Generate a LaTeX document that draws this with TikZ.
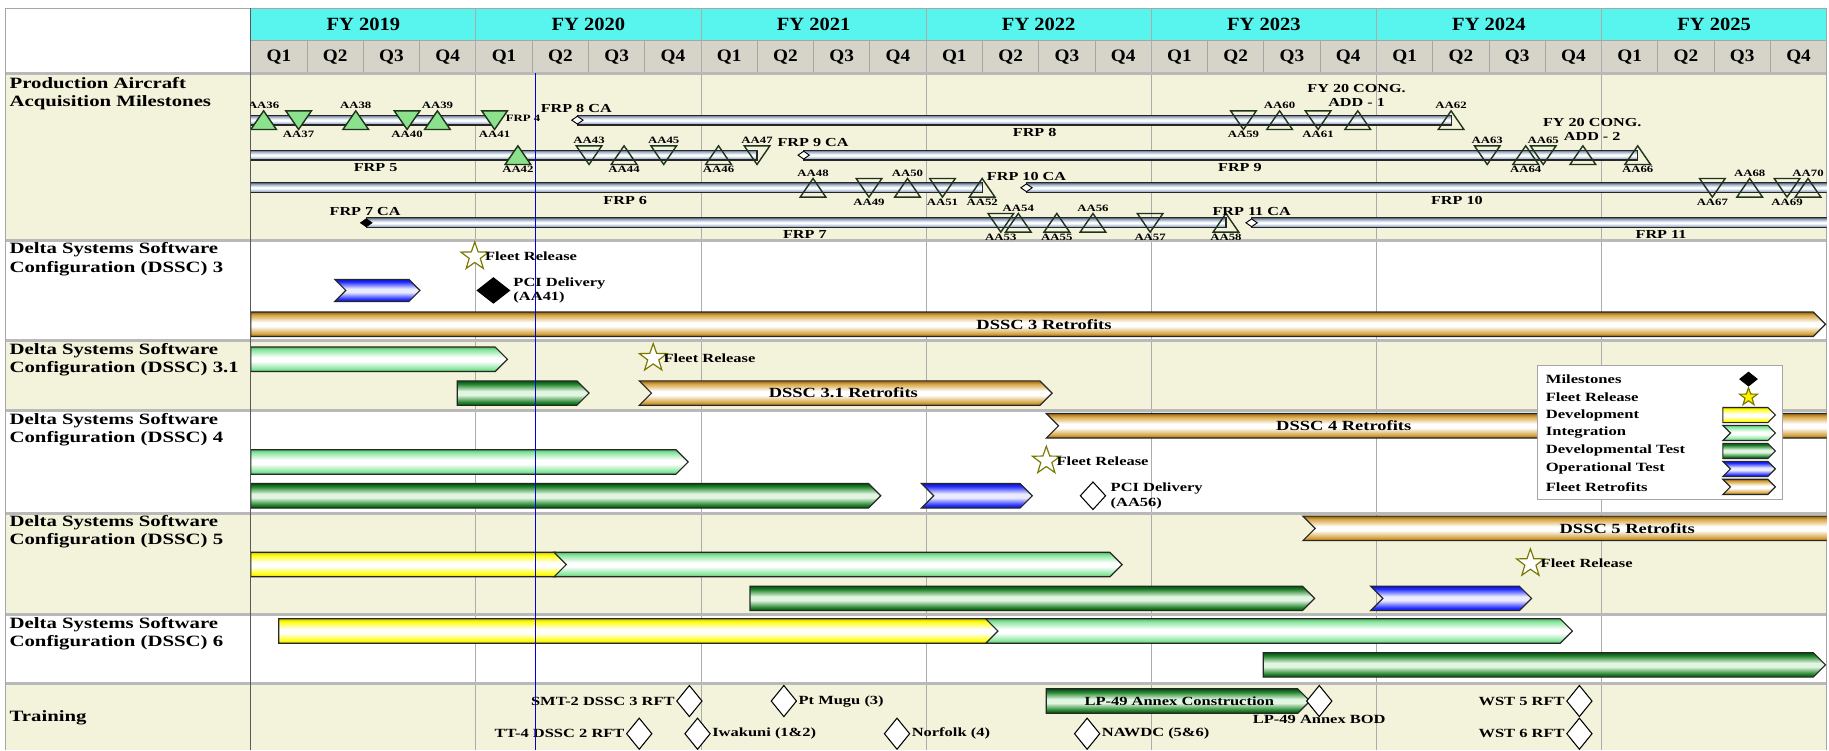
\documentclass[tikz,border=0pt]{standalone}
\usepackage{fontspec}
\setmainfont[FakeStretch=1.32]{Liberation Serif}
\newfontfamily\hdrfont[FakeStretch=1.1]{Liberation Serif}
\usepackage{tikz}
\usetikzlibrary{shapes.geometric}
\definecolor{fyhead}{RGB}{88,245,238}
\definecolor{qhead}{RGB}{214,211,200}
\definecolor{rowbeige}{RGB}{243,242,218}
\definecolor{devyellow}{RGB}{255,255,20}
\definecolor{devedge}{RGB}{215,205,0}
\definecolor{intgreen}{RGB}{140,232,160}
\definecolor{intedge}{RGB}{90,190,110}
\definecolor{dtgreen}{RGB}{30,130,40}
\definecolor{dtedge}{RGB}{10,75,20}
\definecolor{dtmid}{RGB}{225,245,225}
\definecolor{otblue}{RGB}{40,50,255}
\definecolor{otedge}{RGB}{15,20,190}
\definecolor{otmid}{RGB}{235,235,255}
\definecolor{retrotan}{RGB}{215,165,65}
\definecolor{retroedge}{RGB}{150,100,20}
\definecolor{pipeblue}{RGB}{155,175,200}
\definecolor{pipeedge}{RGB}{95,105,125}
\definecolor{mstgreen}{RGB}{140,225,140}
\definecolor{mstline}{RGB}{30,50,30}
\definecolor{staroutline}{RGB}{120,120,0}
\pgfdeclareverticalshading{devshade}{100bp}{color(0bp)=(devedge); color(25bp)=(devedge); color(31bp)=(devyellow); color(46bp)=(white); color(54bp)=(white); color(69bp)=(devyellow); color(75bp)=(devedge); color(100bp)=(devedge)}
\pgfdeclareverticalshading{intshade}{100bp}{color(0bp)=(intedge); color(25bp)=(intedge); color(31bp)=(intgreen); color(46bp)=(white); color(54bp)=(white); color(69bp)=(intgreen); color(75bp)=(intedge); color(100bp)=(intedge)}
\pgfdeclareverticalshading{dtshade}{100bp}{color(0bp)=(dtedge); color(25bp)=(dtedge); color(31bp)=(dtgreen); color(46bp)=(dtmid); color(54bp)=(dtmid); color(69bp)=(dtgreen); color(75bp)=(dtedge); color(100bp)=(dtedge)}
\pgfdeclareverticalshading{otshade}{100bp}{color(0bp)=(otedge); color(25bp)=(otedge); color(31bp)=(otblue); color(46bp)=(otmid); color(54bp)=(otmid); color(69bp)=(otblue); color(75bp)=(otedge); color(100bp)=(otedge)}
\pgfdeclareverticalshading{retroshade}{100bp}{color(0bp)=(retroedge); color(25bp)=(retroedge); color(31bp)=(retrotan); color(46bp)=(white); color(54bp)=(white); color(69bp)=(retrotan); color(75bp)=(retroedge); color(100bp)=(retroedge)}
\pgfdeclareverticalshading{pipeshade}{100bp}{color(0bp)=(pipeedge); color(25bp)=(pipeedge); color(32bp)=(pipeblue); color(47bp)=(white); color(53bp)=(white); color(68bp)=(pipeblue); color(75bp)=(pipeedge); color(100bp)=(pipeedge)}
\newcommand{\fsz}[2]{\fontsize{#1}{#2}\selectfont\bfseries}
% phase chevrons: [half height]{style}{x start}{x tip}{y}
\newcommand{\chev}[5][10.5]{\path[#2] (#3,#5-#1) -- (#4-#1,#5-#1) -- (#4,#5) -- (#4-#1,#5+#1) -- (#3,#5+#1) -- cycle;}
\newcommand{\chevn}[5][10.5]{\path[#2] (#3,#5-#1) -- (#4-#1,#5-#1) -- (#4,#5) -- (#4-#1,#5+#1) -- (#3,#5+#1) -- (#3+#1,#5) -- cycle;}
\newcommand{\pipe}[3]{\path[pipe] (#1,#3-4.2) rectangle (#2,#3+4.2);}
\newcommand{\msup}[3]{\path[#1] (#2-11,#3+8) -- (#2,#3-8) -- (#2+11,#3+8) -- cycle;}
\newcommand{\msdn}[3]{\path[#1] (#2-11,#3-8) -- (#2,#3+8) -- (#2+11,#3-8) -- cycle;}

\begin{document}
\begin{tikzpicture}[x=1pt, y=-1pt,
  yrline/.style={draw=gray!65, line width=0.8pt},
  qline/.style={draw=gray!70, line width=0.8pt},
  rowsep/.style={draw=gray!55, line width=2.2pt},
  colline/.style={draw=black!65, line width=1pt},
  frame/.style={draw=gray!70, line width=1pt},
  today/.style={draw=blue!85!black, line width=0.9pt},
  fylab/.style={font=\hdrfont\fsz{16}{18}, inner sep=0pt},
  qlab/.style={font=\hdrfont\fsz{15}{17}, inner sep=0pt},
  rowlab/.style={anchor=north west, inner sep=0pt, align=left, font=\fsz{13.5}{15.5}},
  frplab/.style={inner sep=0pt, align=center, font=\fsz{10.5}{12}},
  aalab/.style={inner sep=0.5pt, font=\fsz{8.3}{9}},
  barlab/.style={inner sep=0pt, font=\fsz{12}{14}},
  frlab/.style={inner sep=1pt, font=\fsz{10.7}{12.5}},
  pcilab/.style={anchor=west, align=left, inner sep=0pt, font=\fsz{10.7}{12.5}},
  trlab/.style={inner sep=1pt, font=\fsz{10.7}{12}},
  leglab/.style={anchor=west, inner sep=0pt, font=\fsz{10.8}{12}},
  pipe/.style={draw=black!85, line width=1pt, shade, shading=pipeshade},
  msfill/.style={draw=mstline, line width=1.2pt, fill=mstgreen, line join=miter},
  mshollow/.style={draw=mstline, line width=1.2pt, line join=miter},
  cadia/.style={diamond, draw=black, line width=0.8pt, fill=white, inner sep=0pt, minimum width=10, minimum height=7},
  phase/.style={draw=black!85, line width=1pt, line join=miter, shade},
  dev/.style={phase, shading=devshade},
  int/.style={phase, shading=intshade},
  devtest/.style={phase, shading=dtshade},
  optest/.style={phase, shading=otshade},
  retro/.style={phase, shading=retroshade},
  fstar/.style={star, star points=5, star point ratio=2.5, minimum size=25, inner sep=0pt, draw=staroutline, line width=1pt, fill=white},
  pcidia/.style={diamond, draw=black, line width=0.9pt, inner sep=0pt, minimum width=28, minimum height=22},
  trdia/.style={diamond, draw=black, line width=0.9pt, fill=white, inner sep=0pt, minimum width=22, minimum height=27}
]
\useasboundingbox (0,0) rectangle (1568,643);

% backgrounds
\fill[white] (5,7) rectangle (1566,643);
\fill[fyhead] (215,7) rectangle (1566,35);
\fill[qhead] (215,35) rectangle (1566,63);
\foreach \a/\b in {63/206, 292/352, 440/527, 586/643}
  \fill[rowbeige] (5,\a) rectangle (1566,\b);

% grid
\foreach \k in {1,...,27}
  \draw[qline] ({215+48.25*\k},35) -- ({215+48.25*\k},63);
\foreach \k in {1,...,7}
  \draw[yrline] ({215+193*\k},7) -- ({215+193*\k},643);
\foreach \y in {63,206,292,352,440,527,586}
  \draw[rowsep] (5,\y) -- (1566,\y);
\draw[qline] (215,35) -- (1566,35);
\draw[frame] (5,643) -- (5,7) -- (1566,7) -- (1566,643);
\draw[colline] (215,7) -- (215,643);

% header
\foreach \yr [count=\i from 0] in {2019,...,2025}
  \node[fylab] (fy\yr) at ({215+193*(\i+0.5)},21) {FY \yr};
\foreach \k in {0,...,27} {
  \pgfmathtruncatemacro{\q}{mod(\k,4)+1}
  \node[qlab] (q\k) at ({215+48.25*(\k+0.5)},49) {Q\q};
}

% row labels
\node[rowlab] (lprod) at (8,66) {Production Aircraft\\Acquisition Milestones};
\node[rowlab] (ldssc3) at (8,208) {Delta Systems Software\\Configuration (DSSC) 3};
\node[rowlab] (ldssc31) at (8,294) {Delta Systems Software\\Configuration (DSSC) 3.1};
\node[rowlab] (ldssc4) at (8,354) {Delta Systems Software\\Configuration (DSSC) 4};
\node[rowlab] (ldssc5) at (8,442) {Delta Systems Software\\Configuration (DSSC) 5};
\node[rowlab] (ldssc6) at (8,529) {Delta Systems Software\\Configuration (DSSC) 6};
\node[rowlab, anchor=west] (ltrain) at (8,615) {Training};

\begin{scope}
\clip (215,63) rectangle (1566,643);

% production aircraft milestones
\pipe{215}{424}{103}
\pipe{495}{1244}{103}
\pipe{215}{649}{133}
\pipe{689}{1404}{133}
\pipe{215}{842}{161}
\pipe{880}{1572}{161}
\pipe{314}{1051}{191}
\pipe{1073}{1572}{191}

\node[cadia] (frp8ca) at (495,103) {};
\node[cadia] (frp9ca) at (689,133) {};
\node[cadia] (frp10ca) at (880,161) {};
\node[cadia, fill=black] (frp7ca) at (314,191) {};
\node[cadia] (frp11ca) at (1073,191) {};

\foreach \x/\y/\d/\n/\p in {226/103/up/AA36/above, 256/103/dn/AA37/below,
    305/103/up/AA38/above, 349/103/dn/AA40/below, 375/103/up/AA39/above,
    424/103/dn/AA41/below, 444/133/up/AA42/below} {
  \csname ms\d\endcsname{msfill}{\x}{\y}
  \node[aalab, \p=9pt] (\n) at (\x,\y) {\n};
}
\foreach \x/\y/\d/\n/\p in {1066/103/dn/AA59/below, 1097/103/up/AA60/above,
    1130/103/dn/AA61/below, 1244/103/up/AA62/above,
    505/133/dn/AA43/above, 535/133/up/AA44/below, 569/133/dn/AA45/above,
    616/133/up/AA46/below, 649/133/dn/AA47/above,
    1275/133/dn/AA63/above, 1308/133/up/AA64/below, 1323/133/dn/AA65/above,
    1404/133/up/AA66/below,
    697/161/up/AA48/above, 745/161/dn/AA49/below, 778/161/up/AA50/above,
    808/161/dn/AA51/below, 842/161/up/AA52/below,
    1468/161/dn/AA67/below, 1500/161/up/AA68/above, 1532/161/dn/AA69/below,
    1550/161/up/AA70/above,
    858/191/dn/AA53/below, 873/191/up/AA54/above, 906/191/up/AA55/below,
    937/191/up/AA56/above, 986/191/dn/AA57/below, 1051/191/up/AA58/below} {
  \csname ms\d\endcsname{mshollow}{\x}{\y}
  \node[aalab, \p=9pt] (\n) at (\x,\y) {\n};
}
\msup{mshollow}{1164}{103}
\msup{mshollow}{1357}{133}

\node[aalab, anchor=west] (lfrp4) at (433,101) {FRP 4};
\node[frplab] (lfrp8ca) at (494,93) {FRP 8 CA};
\node[frplab] (lfrp8) at (887,114) {FRP 8};
\node[frplab] (lfrp5) at (322,144) {FRP 5};
\node[frplab] (lfrp9ca) at (697,122) {FRP 9 CA};
\node[frplab] (lfrp9) at (1063,144) {FRP 9};
\node[frplab] (lfrp6) at (536,172) {FRP 6};
\node[frplab] (lfrp10ca) at (880,151) {FRP 10 CA};
\node[frplab] (lfrp10) at (1249,172) {FRP 10};
\node[frplab] (lfrp7ca) at (313,181) {FRP 7 CA};
\node[frplab] (lfrp7) at (690,201) {FRP 7};
\node[frplab] (lfrp11ca) at (1073,181) {FRP 11 CA};
\node[frplab] (lfrp11) at (1424,201) {FRP 11};
\node[frplab] (ladd1) at (1163,82) {FY 20 CONG.\\ADD - 1};
\node[frplab] (ladd2) at (1365,111) {FY 20 CONG.\\ADD - 2};

% DSSC 3
\chevn[9.5]{optest}{287}{360}{249}
\chev{retro}{215}{1565}{278}
\node[barlab] (tdssc3r) at (895,278) {DSSC 3 Retrofits};
\node[fstar, label={[frlab]right:Fleet Release}] (fr3) at (407,220) {};
\node[pcidia, fill=black] (pci3) at (423,249) {};
\node[pcilab] (tpci3) at (440,249) {PCI Delivery\\(AA41)};

% DSSC 3.1
\chev{int}{215}{435}{308}
\chev{devtest}{392}{505}{337}
\chevn{retro}{548}{902}{337}
\node[barlab] (tdssc31r) at (723,337) {DSSC 3.1 Retrofits};
\node[fstar, label={[frlab]right:Fleet Release}] (fr31) at (560,307) {};

% DSSC 4
\chevn{retro}{897}{1590}{365}
\node[barlab] (tdssc4r) at (1152,365) {DSSC 4 Retrofits};
\chev{int}{215}{590}{396}
\chev{devtest}{215}{755}{425}
\chevn{optest}{790}{885}{425}
\node[fstar, label={[frlab]right:Fleet Release}] (fr4) at (897,395) {};
\node[pcidia, fill=white, minimum width=22, minimum height=24] (pci4) at (937,425) {};
\node[pcilab] (tpci4) at (952,425) {PCI Delivery\\(AA56)};

% DSSC 5
\chevn{retro}{1117}{1590}{453}
\node[barlab] (tdssc5r) at (1395,453) {DSSC 5 Retrofits};
\chev{dev}{215}{487}{484}
\chevn{int}{475}{962}{484}
\chev{devtest}{643}{1127}{513}
\chevn{optest}{1175}{1313}{513}
\node[fstar, label={[frlab]right:Fleet Release}] (fr5) at (1312,483) {};

% DSSC 6
\chev{dev}{239}{857}{541}
\chevn{int}{845}{1348}{541}
\chev{devtest}{1083}{1565}{570}

% training
\chev{devtest}{897}{1123}{601}
\node[trlab, inner sep=0pt] (tlp49c) at (1011,601) {LP-49 Annex Construction};
\node[trdia, label={[trlab]left:SMT-2 DSSC 3 RFT}] (smt2) at (591,601) {};
\node[trdia, label={[trlab]right:Pt Mugu (3)}] (ptmugu) at (672,601) {};
\node[trdia, label={[trlab, label distance=-3pt]below:LP-49 Annex BOD}] (lp49bod) at (1131,601) {};
\node[trdia, label={[trlab]left:WST 5 RFT}] (wst5) at (1354,601) {};
\node[trdia, label={[trlab]left:TT-4 DSSC 2 RFT}] (tt4) at (548,629) {};
\node[trdia, label={[trlab]right:Iwakuni (1\&2)}] (iwakuni) at (598,629) {};
\node[trdia, label={[trlab]right:Norfolk (4)}] (norfolk) at (769,629) {};
\node[trdia, label={[trlab]right:NAWDC (5\&6)}] (nawdc) at (932,629) {};
\node[trdia, label={[trlab]left:WST 6 RFT}] (wst6) at (1354,629) {};
\end{scope}

% today line
\draw[today] (459,63) -- (459,643);

% legend
\draw[fill=white, draw=gray!70, line width=1pt] (1318,313) rectangle (1528,428);
\foreach \t [count=\i from 0] in {Milestones, Fleet Release, Development, Integration,
    Developmental Test, Operational Test, Fleet Retrofits}
  \node[leglab] (leg\i) at (1325,{325+15.4*\i}) {\t};
\node[pcidia, fill=black, minimum width=15, minimum height=12] (legms) at (1499,325) {};
\node[fstar, fill=yellow, minimum size=16] (legfr) at (1499,340.4) {};
\chev[6.5]{dev}{1477}{1522}{355.8}
\chevn[6.5]{int}{1477}{1522}{371.2}
\chev[6.5]{devtest}{1477}{1522}{386.6}
\chevn[6.5]{optest}{1477}{1522}{402}
\chevn[6.5]{retro}{1477}{1522}{417.4}
\end{tikzpicture}
\end{document}
